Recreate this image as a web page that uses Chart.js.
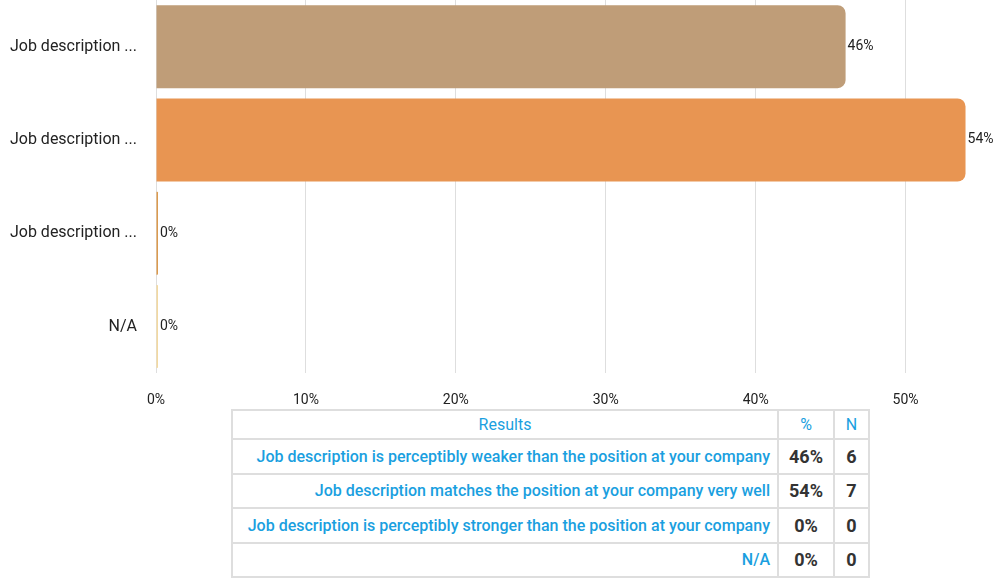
<!DOCTYPE html>
<html>
<head>
<meta charset="utf-8">
<script src="https://cdn.jsdelivr.net/npm/chart.js@4"></script>
<style>
  body { margin: 0; background: #fff; font-family: Roboto, sans-serif; }
  #wrap { position: absolute; left: 0; top: 0; width: 1003px; height: 428px; }
  table { position: absolute; left: 231px; top: 409px; border-collapse: collapse; background: #fff; }
  td, th { border: 2px solid #dedede; padding: 0 7px; font-size: 15px; box-sizing: border-box; }
  th { color: #1a9fe0; font-weight: normal; text-align: center; height: 29px; font-size: 16px; }
  td { height: 34.5px; }
  td.lab { color: #1a9fe0; text-align: right; font-weight: 500; font-size: 16px; }
  td.num { color: #333; font-weight: bold; font-size: 18px; text-align: center; }
</style>
</head>
<body>
<div id="wrap"><canvas id="chart"></canvas></div>
<table id="results"></table>
<script>
// 選項與數據
const categories = [
    "Job description is perceptibly weaker than the position at your company",
    "Job description matches the position at your company very well",
    "Job description is perceptibly stronger than the position at your company",
    "N/A"
];
const percents = [46, 54, 0, 0];
const counts = [6, 7, 0, 0];
const barColors = ['#BF9D78', '#E89552', '#DB9A4E', '#F3D9A0'];
const xTicks = [0, 10, 20, 30, 40, 50];

// 表格
const table = document.getElementById('results');
table.innerHTML = '<tr><th style="width:546px">Results</th><th style="width:56px">%</th><th style="width:35px">N</th></tr>';
categories.forEach((c, i) => {
    table.innerHTML += `<tr><td class="lab">${c}</td><td class="num">${percents[i]}%</td><td class="num">${counts[i]}</td></tr>`;
});

// 數值標籤
const valueLabels = {
    id: 'valueLabels',
    afterDatasetsDraw(chart) {
        const ctx = chart.ctx;
        const meta = chart.getDatasetMeta(0);
        ctx.save();
        ctx.font = '14px Roboto';
        ctx.fillStyle = '#222';
        ctx.textBaseline = 'middle';
        meta.data.forEach((bar, i) => {
            ctx.fillText(percents[i] + '%', bar.x + 2, bar.y);
        });
        ctx.restore();
    }
};

new Chart(document.getElementById('chart'), {
    type: 'bar',
    data: {
        labels: categories,
        datasets: [{
            data: percents,
            backgroundColor: barColors,
            borderRadius: { topRight: 8, bottomRight: 8 },
            borderSkipped: 'left',
            minBarLength: 2,
            barPercentage: 0.89,
            categoryPercentage: 1
        }]
    },
    options: {
        indexAxis: 'y',
        responsive: true,
        maintainAspectRatio: false,
        animation: false,
        layout: { padding: 0 },
        plugins: { legend: { display: false }, tooltip: { enabled: false } },
        scales: {
            x: {
                min: 0,
                max: 56.5,
                afterBuildTicks: axis => { axis.ticks = xTicks.map(v => ({ value: v })); },
                grid: { color: '#dedede', drawTicks: false },
                border: { display: false },
                ticks: {
                    padding: 19,
                    color: '#222',
                    font: { family: 'Roboto', size: 14 },
                    callback: v => v + '%'
                }
            },
            y: {
                grid: { display: false },
                border: { display: false },
                afterFit: axis => {
                    axis.width = 156;
                    axis.paddingTop = 0;
                    axis.paddingBottom = 0;
                },
                ticks: {
                    padding: 11,
                    color: '#222',
                    font: { family: 'Roboto', size: 16 },
                    callback: function(v) {
                        const s = this.getLabelForValue(v);
                        return s.length > 18 ? s.substring(0, 15) + ' ...' : s;
                    }
                }
            }
        }
    },
    plugins: [valueLabels]
});
</script>
</body>
</html>
